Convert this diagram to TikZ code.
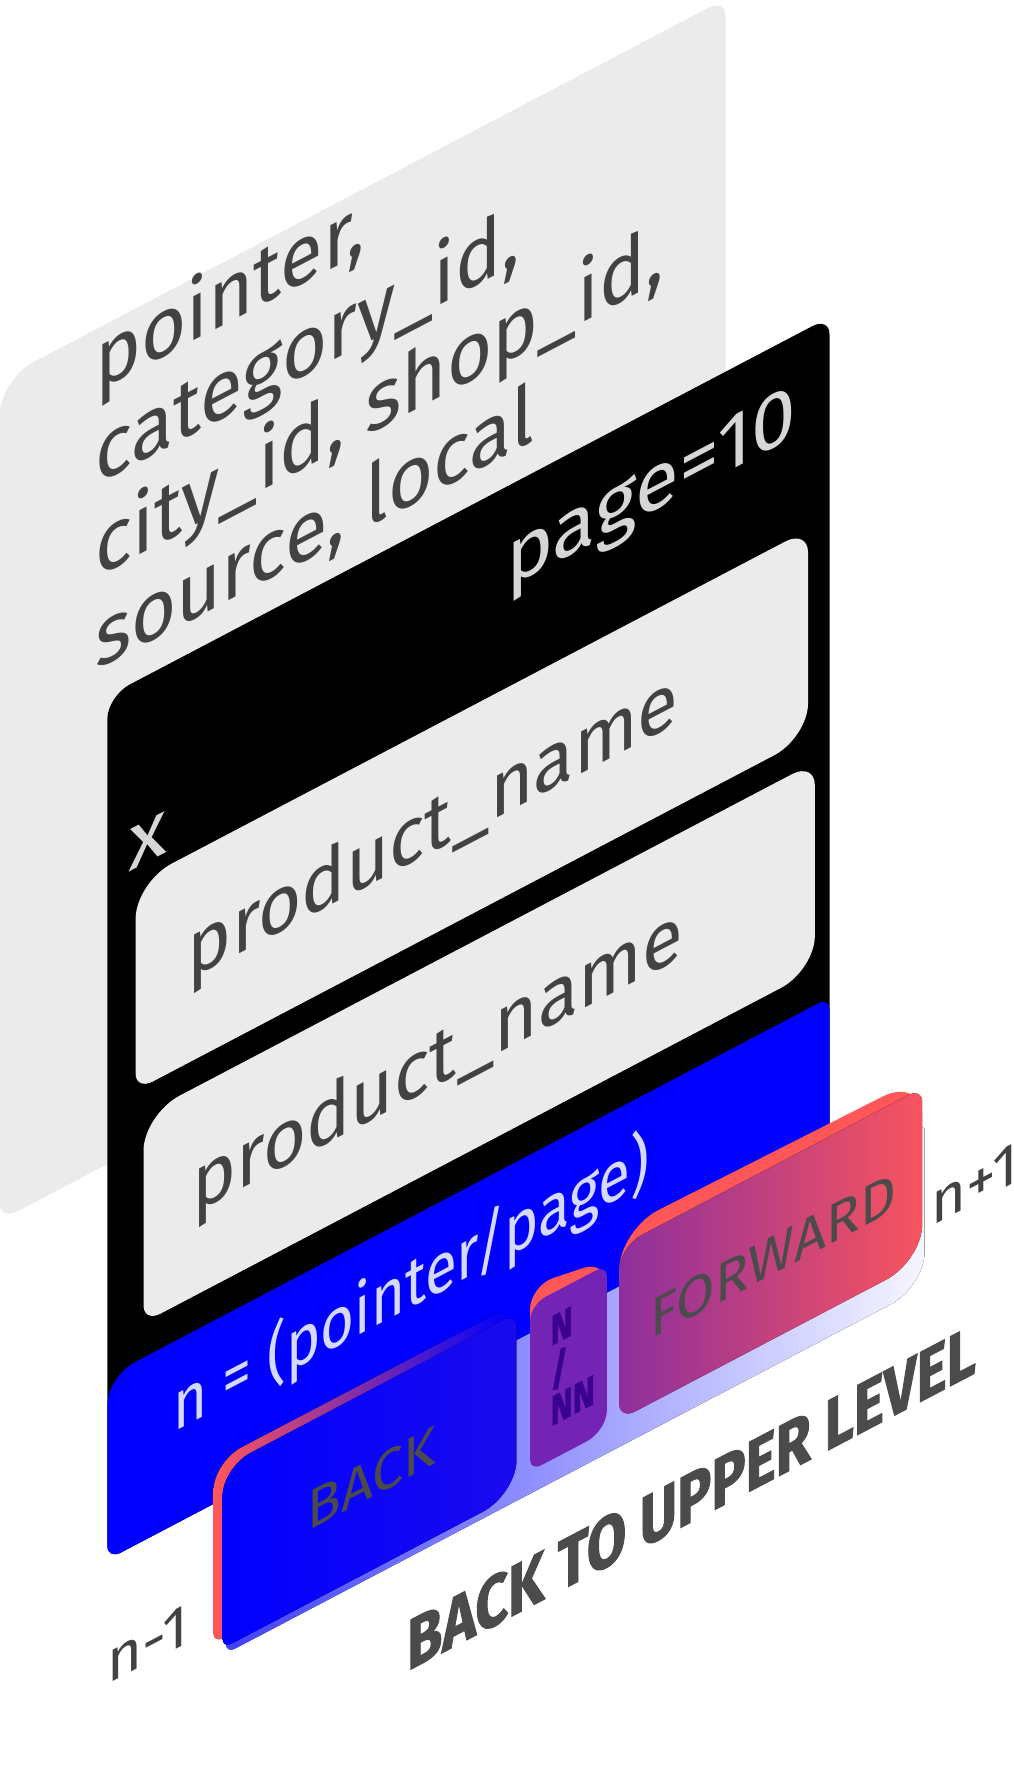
\documentclass[tikz,border=0pt]{standalone}
\usepackage{fontspec}
\setmainfont{Fira Sans}
\newfontfamily\heavyfont{Fira Sans}[FakeBold=1.6]
\usepackage{tikz}
\usepackage{xcolor}
\definecolor{sheetgray}{HTML}{EBEBEB}
\definecolor{inkgray}{HTML}{424242}
\definecolor{pagegray}{HTML}{D6D6D6}
\definecolor{uiblue}{HTML}{0000FF}
\definecolor{lavender}{HTML}{D5D8FF}
\definecolor{btnred}{HTML}{FF5757}
\definecolor{backR}{HTML}{1A0AEE}
\definecolor{fwdL}{HTML}{8E2F9D}
\definecolor{fwdR}{HTML}{F8545E}
\definecolor{nnfill}{HTML}{7424B4}
\definecolor{nnink}{HTML}{3A0090}
\definecolor{btngray}{HTML}{4B4B4B}
\definecolor{plateL}{HTML}{4040FF}
\definecolor{plateM}{HTML}{7070FF}
\definecolor{plateR}{HTML}{F6F6FF}
\tikzstyle{sheet}=[fill=sheetgray]
\tikzstyle{fieldtxt}=[inner sep=0pt, anchor=base west, text=inkgray, font=\fontsize{42}{50}\selectfont, xscale=.93]
\tikzstyle{nametxt}=[fieldtxt, font=\fontsize{40}{48}\selectfont, xscale=1.005]
\tikzstyle{pagetxt}=[nametxt, text=pagegray, xscale=1.075]
\tikzstyle{formtxt}=[fieldtxt, text=lavender, font=\fontsize{35}{42}\selectfont, xscale=.9]
\tikzstyle{btntxt}=[fieldtxt, text=btngray, font=\fontsize{28}{34}\selectfont, xscale=1.075]
\tikzstyle{nntxt}=[fieldtxt, text=nnink, font=\heavyfont\bfseries\fontsize{21}{24}\selectfont, xscale=.86]
\tikzstyle{stepno}=[fieldtxt, font=\fontsize{30}{36}\selectfont, xscale=1.075]
\tikzstyle{bigtxt}=[fieldtxt, text=btngray, font=\heavyfont\bfseries\fontsize{36}{42}\selectfont, xscale=.86]
% box in the slanted plane: x0 y0 x1 y1, then radii TL TR BR BL
\newcommand{\isobox}[8]{(#1+#8,#2) -- (#3-#7,#2) arc[start angle=-90, end angle=0, radius=#7] -- (#3,#4-#6) arc[start angle=0, end angle=90, radius=#6] -- (#1+#5,#4) arc[start angle=90, end angle=180, radius=#5] -- (#1,#2+#8) arc[start angle=180, end angle=270, radius=#8] -- cycle}

\begin{document}
\begin{tikzpicture}[x=0.02cm, y=0.02cm]
	\useasboundingbox (0,0) rectangle (897,1568);

	\begin{scope}[transform canvas={yslant=0.525}]
		% request sheet
		\fill[sheet] \isobox{0}{488}{642}{1232}{30}{15}{15}{15};
		\foreach \line [count=\i from 0] in {{pointer,}, {category\_id,}, {city\_id, shop\_id,}, {source, local}}{
			\node[fieldtxt] (field\i) at (84, 1176-82*\i) {\line};
		}

		% page
		\fill[black] \isobox{95}{138}{734}{902}{20}{15}{12}{12};
		\node[pagetxt, anchor=base east] (page) at (705,812) {page=10};
		\node[pagetxt] (close) at (113,736) {x};

		\fill[sheet] \isobox{120}{540}{715}{724}{32}{20}{30}{15};
		\fill[sheet] \isobox{127}{331}{721}{515}{32}{20}{30}{15};
		\node[nametxt] (name_1) at (166,613) {product\_name};
		\node[nametxt] (name_2) at (170,404) {product\_name};

		\fill[uiblue] \isobox{95}{138}{734}{300}{25}{10}{12}{12};
		\node[formtxt] (formula) at (153,220) {n = (pointer/page)};

		% button plate
		\fill[left color=plateL, middle color=plateM, right color=plateR] \isobox{200}{0}{818}{142}{2}{2}{30}{8};

		% back
		\fill[left color=btnred, right color=uiblue] \isobox{189}{15}{449}{175}{25}{12}{30}{8};
		\fill[left color=uiblue, right color=backR] \isobox{197}{6}{457}{166}{25}{12}{30}{8};
		\node[btntxt] (back) at (272,70) {BACK};

		% page counter
		\fill[btnred, rounded corners=12] (469,30) -- (469,184) -- (537,171) -- (537,30) -- cycle;
		\fill[nnfill] \isobox{469}{20}{537}{167}{14}{10}{18}{10};
		\node[nntxt] (nn_1) at (487,121) {N};
		\node[nntxt] (nn_2) at (487,84) {/};
		\node[nntxt] (nn_3) at (487,50) {NN};

		% forward
		\fill[btnred, rounded corners=20] (548,30) -- (548,192) -- (816,187) -- (816,30) -- cycle;
		\fill[left color=fwdL, right color=fwdR] \isobox{548}{24}{816}{177}{20}{12}{32}{14};
		\node[btntxt] (forward) at (575,81) {FORWARD};

		\node[stepno] (prev) at (95,27) {n-1};
		\node[stepno] (next) at (824,50) {n+1};
		\node[bigtxt] (upper) at (360,-100) {BACK TO UPPER LEVEL};
	\end{scope}
\end{tikzpicture}
\end{document}
